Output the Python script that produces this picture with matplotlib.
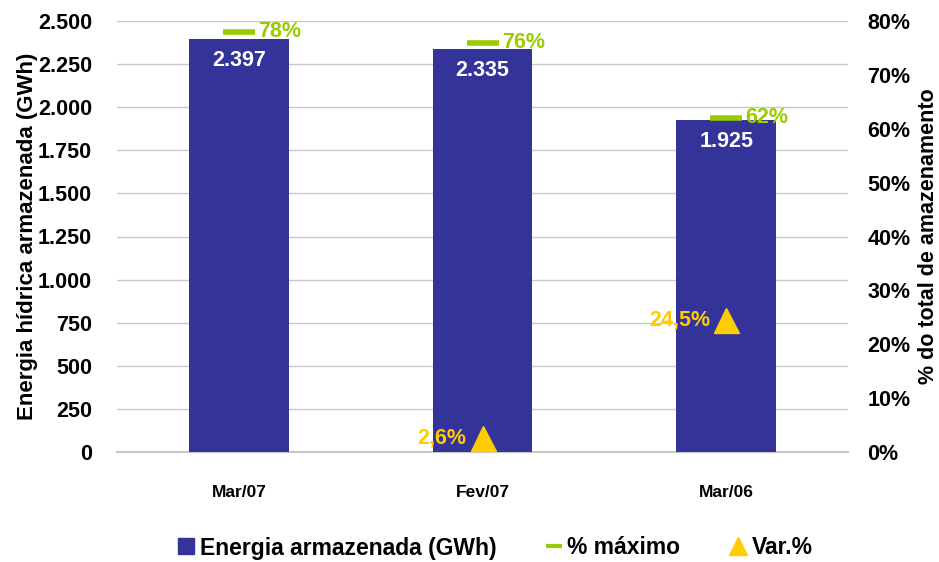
import numpy as np
import matplotlib.pyplot as plt
from matplotlib.lines import Line2D
from matplotlib.ticker import FuncFormatter

plt.rcParams['font.family'] = ['Liberation Sans', 'DejaVu Sans']
plt.rcParams['font.weight'] = 'bold'

categories = ["Mar/07", "Fev/07", "Mar/06"]
energia = [2397, 2335, 1925]            # GWh
pct_maximo = [78, 76, 62]               # % do total
var_idx = [1, 2]                        # categories with Var.%
var_pct = [2.6, 24.5]

blue = "#333399"
green = "#99CC00"
yellow = "#FFCC00"


def thousands(v, pos=None):
    return f"{int(v):,}".replace(",", ".")


fig = plt.figure(figsize=(9.39, 5.62), dpi=100)
ax = fig.add_axes([117 / 939, 1 - 452 / 562, 731 / 939, 431 / 562])
ax2 = ax.twinx()

x = np.arange(len(categories))
ax.bar(x, energia, width=0.41, color=blue, zorder=2)
for xi, v in zip(x, energia):
    ax.text(xi, v - 125, thousands(v), ha='center', va='center',
            color='white', fontsize=15.5, fontweight='bold', zorder=3)

ax.set_xlim(-0.5, 2.5)
ax.set_ylim(0, 2500)
ax.set_yticks(np.arange(0, 2501, 250))
ax.yaxis.set_major_formatter(FuncFormatter(thousands))
ax.grid(axis='y', color='#c8c8c8', linewidth=1, zorder=0)
ax.axhline(0, color='#c8c8c8', linewidth=1.5, zorder=1, clip_on=False)
ax.set_axisbelow(True)
ax.set_xticks(x)
ax.set_xticklabels(categories, fontsize=12.5, fontweight='bold')
ax.tick_params(axis='both', length=0, labelsize=15.5)
ax.tick_params(axis='x', pad=24, labelsize=12.5)
ax.tick_params(axis='y', pad=18)
ax.set_ylabel("Energia hídrica armazenada (GWh)", fontsize=16, fontweight='bold', labelpad=0)

ax2.set_ylim(0, 80)
ax2.set_yticks(np.arange(0, 81, 10))
ax2.yaxis.set_major_formatter(FuncFormatter(lambda v, p: f"{int(v)}%"))
ax2.tick_params(axis='y', length=0, labelsize=15.5, pad=14)
ax2.set_ylabel("% do total de amazenamento", fontsize=15.5, fontweight='bold', labelpad=5)

for a in (ax, ax2):
    for s in a.spines.values():
        s.set_visible(False)

ax2.plot(x, pct_maximo, linestyle='none', marker='_', markersize=23,
         markeredgewidth=4, color=green, zorder=4)
for xi, v in zip(x, pct_maximo):
    ax2.text(xi + 0.08, v, f"{v}%", ha='left', va='center', color=green,
             fontsize=15.5, fontweight='bold')

ax2.plot(var_idx, var_pct, linestyle='none', marker='^', markersize=18,
         color=yellow, zorder=4)
for xi, v in zip(var_idx, var_pct):
    ax2.text(xi - 0.065, v, f"{v}%".replace(".", ","), ha='right', va='center',
             color=yellow, fontsize=15.5, fontweight='bold')

handles = [
    Line2D([], [], linestyle='none', marker='s', markersize=12, color=blue),
    Line2D([], [], linestyle='none', marker='_', markersize=12, markeredgewidth=3, color=green),
    Line2D([], [], linestyle='none', marker='^', markersize=13, color=yellow),
]
labels = ["Energia armazenada (GWh)", "% máximo", "Var.%"]
fig.legend(handles, labels, loc='center', bbox_to_anchor=(0.528, 1 - 548 / 562),
           ncol=3, frameon=False, fontsize=16.5, handlelength=0.6, handletextpad=0.3,
           columnspacing=2.2)

fig.savefig("out.png", dpi=100)
